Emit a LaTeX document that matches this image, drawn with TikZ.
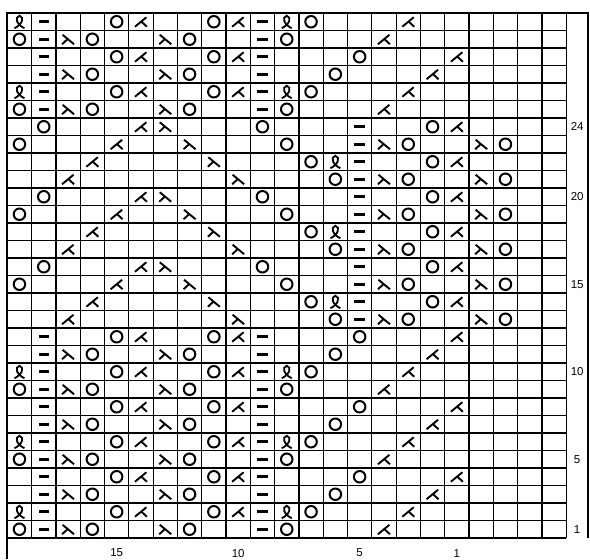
\documentclass[tikz,border=0pt]{standalone}
\usepackage{fontspec}
\setmainfont{Liberation Sans}
\usetikzlibrary{calc}

\begin{document}
\begin{tikzpicture}[x=24.3pt,y=17.5pt]

\tikzset{
gridline/.style={line width=1.2pt},
frameline/.style={line width=1.8pt},
yo/.style={
circle,
draw,
line width=2pt,
minimum size=11.5pt,
inner sep=0pt
},
purl/.style={
fill=black,
minimum width=10.5pt,
minimum height=2.8pt,
inner sep=0pt
},
lam/.style={
minimum width=17pt,
minimum height=15pt,
inner sep=0pt,
path picture={\draw[shift={(path picture bounding box.center)},line width=1.9pt]
(-5.5pt,4.5pt) -- (6pt,-5pt) (0pt,0.5pt) -- (-6pt,-5pt);}
},
tog/.style={
minimum width=17pt,
minimum height=15pt,
inner sep=0pt,
path picture={\draw[shift={(path picture bounding box.center)},line width=1.9pt]
(5.5pt,4.5pt) -- (-6pt,-5pt) (0pt,0.5pt) -- (6pt,-5pt);}
},
twist/.style={
minimum width=17pt,
minimum height=17pt,
inner sep=0pt,
path picture={\draw[shift={(path picture bounding box.center)},line width=1.8pt]
(-5pt,-6.5pt) .. controls (2.5pt,-3pt) and (5.5pt,4.5pt) .. (0pt,6pt)
.. controls (-5.5pt,4.5pt) and (-2.5pt,-3pt) .. (5pt,-6.5pt);}
},
rownum/.style={font=\fontsize{11.5}{12}\selectfont}
}

\useasboundingbox (-0.3004,-1.2) rectangle (23.979,30.743);

%--------------------------------------------------
% GRID
%--------------------------------------------------

\foreach \k in {1,...,23} \draw[gridline] (\k,0) -- (\k,30);
\foreach \r in {0,...,29} \draw[gridline] (0,\r) -- (23,\r);
\draw[frameline] (0,-1.2) -- (0,30) -- (23.9,30) -- (23.9,0);

%--------------------------------------------------
% ROWS 1-12 AND 25-30
%--------------------------------------------------

\foreach \r in {1,5,9,25,29}{
\foreach \k in {0,3,7,11} \node[yo] (yo\r-\k) at (\k+.5,\r-.5) {};
\foreach \k in {1,10} \node[purl] (p\r-\k) at (\k+.5,\r-.5) {};
\foreach \k in {2,6} \node[lam] (l\r-\k) at (\k+.5,\r-.5) {};
\node[tog] (t\r-15) at (15.5,\r-.5) {};
}

\foreach \r in {2,6,10,26,30}{
\foreach \k in {0,11} \node[twist] (tw\r-\k) at (\k+.5,\r-.5) {};
\foreach \k in {1,10} \node[purl] (p\r-\k) at (\k+.5,\r-.5) {};
\foreach \k in {4,8,12} \node[yo] (yo\r-\k) at (\k+.5,\r-.5) {};
\foreach \k in {5,9,16} \node[tog] (t\r-\k) at (\k+.5,\r-.5) {};
}

\foreach \r in {3,7,11,27}{
\foreach \k in {1,10} \node[purl] (p\r-\k) at (\k+.5,\r-.5) {};
\foreach \k in {2,6} \node[lam] (l\r-\k) at (\k+.5,\r-.5) {};
\foreach \k in {3,7,13} \node[yo] (yo\r-\k) at (\k+.5,\r-.5) {};
\node[tog] (t\r-17) at (17.5,\r-.5) {};
}

\foreach \r in {4,8,12,28}{
\foreach \k in {1,10} \node[purl] (p\r-\k) at (\k+.5,\r-.5) {};
\foreach \k in {4,8,14} \node[yo] (yo\r-\k) at (\k+.5,\r-.5) {};
\foreach \k in {5,9,18} \node[tog] (t\r-\k) at (\k+.5,\r-.5) {};
}

%--------------------------------------------------
% ROWS 13-24
%--------------------------------------------------

\foreach \r in {13,17,21}{
\node[tog] (t\r-2) at (2.5,\r-.5) {};
\foreach \k in {9,15,19} \node[lam] (l\r-\k) at (\k+.5,\r-.5) {};
\foreach \k in {13,16,20} \node[yo] (yo\r-\k) at (\k+.5,\r-.5) {};
\node[purl] (p\r-14) at (14.5,\r-.5) {};
}

\foreach \r in {14,18,22}{
\foreach \k in {3,18} \node[tog] (t\r-\k) at (\k+.5,\r-.5) {};
\node[lam] (l\r-8) at (8.5,\r-.5) {};
\foreach \k in {12,17} \node[yo] (yo\r-\k) at (\k+.5,\r-.5) {};
\node[twist] (tw\r-13) at (13.5,\r-.5) {};
\node[purl] (p\r-14) at (14.5,\r-.5) {};
}

\foreach \r in {15,19,23}{
\foreach \k in {0,11,16,20} \node[yo] (yo\r-\k) at (\k+.5,\r-.5) {};
\node[tog] (t\r-4) at (4.5,\r-.5) {};
\foreach \k in {7,15,19} \node[lam] (l\r-\k) at (\k+.5,\r-.5) {};
\node[purl] (p\r-14) at (14.5,\r-.5) {};
}

\foreach \r in {16,20,24}{
\foreach \k in {1,10,17} \node[yo] (yo\r-\k) at (\k+.5,\r-.5) {};
\foreach \k in {5,18} \node[tog] (t\r-\k) at (\k+.5,\r-.5) {};
\node[lam] (l\r-6) at (6.5,\r-.5) {};
\node[purl] (p\r-14) at (14.5,\r-.5) {};
}

%--------------------------------------------------
% NUMBERS
%--------------------------------------------------

\foreach \r in {1,5,10,15,20,24}
\node[rownum] (row\r) at (23.45,\r-.5) {\r};

\foreach \s in {1,5,10,15}
\node[rownum] (st\s) at (19-\s+.5,-0.86) {\s};

\end{tikzpicture}
\end{document}
